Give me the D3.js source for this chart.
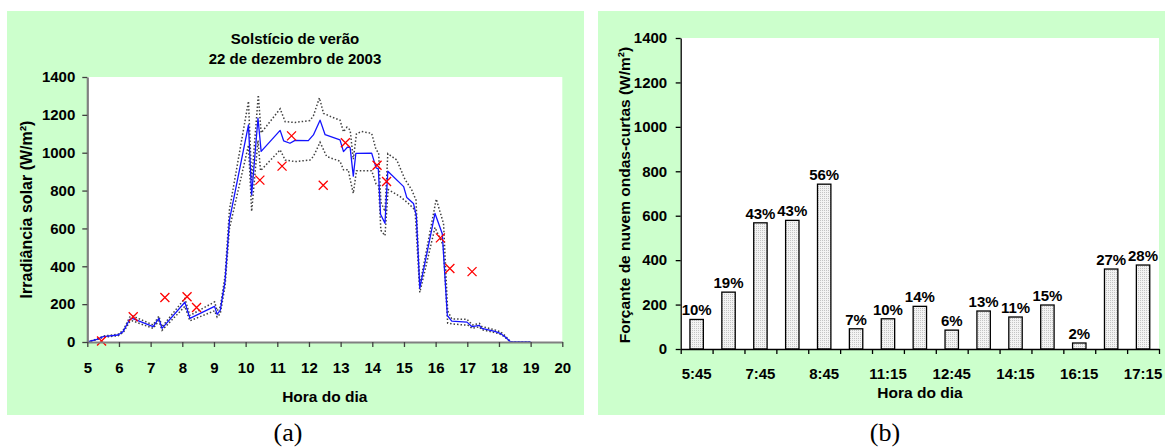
<!DOCTYPE html>
<html><head><meta charset="utf-8">
<script src="https://cdn.jsdelivr.net/npm/d3@7"></script>
<style>
body{margin:0;background:#fff}
svg{display:block}
text{font-family:"Liberation Sans",Arial,sans-serif;font-weight:bold;fill:#000}
</style>
</head><body>
<svg id="c" width="1165" height="448"></svg>
<script>
// ---------- Panel (a) data ----------
const leftTitle = ["Solstício de verão", "22 de dezembro de 2003"];
const leftXTicks = [5,6,7,8,9,10,11,12,13,14,15,16,17,18,19,20];
const leftYTicks = [0,200,400,600,800,1000,1200,1400];

const modelHours  = [5.0,5.3,5.5,5.97,6.13,6.34,6.42,7.08,7.26,7.36,8.08,8.24,9.02,9.1,9.2,9.35,9.49,10.09,10.19,10.39,10.49,11.09,11.2,11.4,11.56,11.98,12.14,12.35,12.51,12.98,13.09,13.22,13.3,13.4,13.48,13.98,14.12,14.19,14.26,14.4,14.49,14.99,15.09,15.3,15.39,15.5,15.98,16.21,16.37,16.51,16.99,17.15,17.38,17.46,17.87,18.06,18.19,18.37,19.0];
const modelValues = [0,14,28,37,55,120,125,81,125,72,210,125,188,146,168,322,645,1147,777,1182,1007,1118,1063,1050,1065,1064,1094,1172,1095,1068,1006,1030,1027,876,996,998,920,915,675,627,902,821,763,732,668,284,679,572,140,110,105,81,88,72,56,44,28,0,0];

const upperHours  = [5.0,5.3,5.5,5.97,6.13,6.34,6.42,7.08,7.26,7.36,8.08,8.24,9.02,9.1,9.2,9.35,9.49,10.09,10.19,10.4,10.49,11.09,11.25,11.56,12.03,12.14,12.33,12.46,12.7,12.98,13.09,13.2,13.3,13.4,13.5,13.66,13.98,14.12,14.2,14.27,14.4,14.49,14.77,15.03,15.24,15.38,15.5,16.02,16.25,16.38,16.51,16.99,17.16,17.38,17.46,17.87,18.06,18.2,18.37,19.0];
const upperValues = [0,16,31,41,61,132,138,90,137,80,230,140,212,165,185,350,700,1272,855,1305,1105,1232,1164,1160,1170,1195,1290,1208,1190,1172,1110,1135,1120,965,1100,1112,1102,1015,1000,740,690,995,962,860,805,750,300,755,625,165,122,120,90,98,82,64,52,32,0,0];

const lowerHours  = [5.0,5.3,5.5,5.97,6.13,6.34,6.42,7.08,7.26,7.36,8.08,8.24,9.02,9.1,9.2,9.35,9.49,10.09,10.19,10.39,10.47,11.09,11.25,11.56,12.03,12.14,12.35,12.56,12.98,13.09,13.24,13.3,13.4,13.5,13.98,14.12,14.2,14.27,14.4,14.5,14.88,15.14,15.35,15.5,15.98,16.24,16.38,16.51,17.03,17.15,17.38,17.46,17.87,18.06,18.19,18.37,19.0];
const lowerValues = [0,12,25,33,49,108,112,72,112,62,188,112,165,132,150,295,600,1040,690,1065,905,1015,961,953,961,980,1055,980,955,910,910,860,785,905,905,835,825,590,562,805,768,732,697,262,605,510,100,96,88,72,80,65,50,40,25,0,0];

const obsHours  = [5.45,6.45,7.45,8.15,8.45,10.45,11.15,11.45,12.45,13.15,14.15,14.45,16.15,16.45,17.15];
const obsValues = [5,133,235,239,182,855,929,1089,828,1053,934,848,550,388,372];

// ---------- Panel (b) data ----------
const barCategories = ["5:45","6:45","7:45","8:15","8:45","10:45","11:15","11:45","12:45","13:15","14:15","14:45","16:15","16:45","17:15"];
const barValues     = [133,256,568,579,742,91,136,192,85,171,144,198,27,360,378];
const barPercents   = ["10%","19%","43%","43%","56%","7%","10%","14%","6%","13%","11%","15%","2%","27%","28%"];
const rightYTicks   = [0,200,400,600,800,1000,1200,1400];

const svg = d3.select("#c");
const defs = svg.append("defs");
const pat = defs.append("pattern").attr("id","dots").attr("width",2).attr("height",2).attr("patternUnits","userSpaceOnUse");
pat.append("rect").attr("width",2).attr("height",2).attr("fill","#f3f3f3");
pat.append("rect").attr("width",1).attr("height",1).attr("fill","#c4c4c4");

const GREEN = "#ccffcc";
const fmt = d3.format("d");

// ================= Panel (a) =================
svg.append("rect").attr("x",7).attr("y",11).attr("width",577).attr("height",404).attr("fill",GREEN);
const xL = d3.scaleLinear().domain([5,20]).range([87.3,562.3]);
const yL = d3.scaleLinear().domain([0,1400]).range([342,77]);
svg.append("rect").attr("x",xL(5)).attr("y",yL(1400)).attr("width",xL(20)-xL(5)).attr("height",yL(0)-yL(1400)).attr("fill","#fff");

const gT = svg.append("g").attr("font-size",15).attr("text-anchor","middle");
gT.append("text").attr("x",295).attr("y",44).text(leftTitle[0]);
gT.append("text").attr("x",295).attr("y",64).text(leftTitle[1]);

const line = (xs, ys) => d3.line().x((d,i)=>xL(xs[i])).y(d=>yL(d))(ys);

// dotted bounds
[[upperHours,upperValues],[lowerHours,lowerValues]].forEach(([h,v])=>{
  svg.append("path").attr("d",line(h,v)).attr("fill","none")
    .attr("stroke","#404040").attr("stroke-width",1.5).attr("stroke-dasharray","1.5,2");
});
// model line
svg.append("path").attr("d",line(modelHours,modelValues)).attr("fill","none")
  .attr("stroke","#1414ff").attr("stroke-width",1.3).attr("stroke-linejoin","round");
// observed markers
svg.append("g").selectAll("path").data(obsValues).join("path")
  .attr("transform",(d,i)=>`translate(${xL(obsHours[i])},${yL(d)})`)
  .attr("d","M-4.5,-4.5L4.5,4.5M-4.5,4.5L4.5,-4.5")
  .attr("stroke","#ff0000").attr("stroke-width",1.3).attr("fill","none");

// axes (a)
const axYL = svg.append("g").attr("transform",`translate(${xL(5)},0)`)
  .call(d3.axisLeft(yL).tickValues(leftYTicks).tickSize(5).tickSizeOuter(0).tickPadding(7).tickFormat(fmt));
const axXL = svg.append("g").attr("transform",`translate(0,${yL(0)})`)
  .call(d3.axisBottom(xL).tickValues(leftXTicks).tickSize(5).tickSizeOuter(0).tickFormat(fmt));
[axYL,axXL].forEach(g=>{
  g.select(".domain").attr("stroke","#808080").attr("stroke-width",2.2);
  g.selectAll(".tick line").attr("stroke","#404040").attr("stroke-width",1.3);
  g.selectAll("text").attr("font-size",15).attr("font-family",null).attr("fill","#000");
});
axXL.selectAll("text").attr("y",31).attr("dy",null);

svg.append("text").attr("x",(xL(5)+xL(20))/2).attr("y",401.5).attr("text-anchor","middle").attr("font-size",15.5).text("Hora do dia");
svg.append("text").attr("transform",`translate(32,${(yL(0)+yL(1400))/2}) rotate(-90)`).attr("text-anchor","middle").attr("font-size",16).text("Irradiância solar (W/m²)");

// ================= Panel (b) =================
svg.append("rect").attr("x",598).attr("y",11).attr("width",567).attr("height",404).attr("fill",GREEN);
const xR = d3.scaleBand().domain(barCategories).range([680.7,1159]).padding(0);
const xRb = d3.scaleLinear().domain([0,barCategories.length]).range([680.7,1159]);
const yR = d3.scaleLinear().domain([0,1400]).range([349,38]);
svg.append("rect").attr("x",680.7).attr("y",yR(1400)).attr("width",1159-680.7).attr("height",yR(0)-yR(1400)).attr("fill","#fff");

const bw = xR.bandwidth(), barW = bw*0.42;
svg.append("g").selectAll("rect").data(barValues).join("rect")
  .attr("x",(d,i)=>xR(barCategories[i])+(bw-barW)/2)
  .attr("y",d=>yR(d)).attr("width",barW).attr("height",d=>yR(0)-yR(d))
  .attr("fill","url(#dots)").attr("stroke","#000").attr("stroke-width",1.3);
svg.append("g").attr("font-size",15).attr("text-anchor","middle")
  .selectAll("text").data(barValues).join("text")
  .attr("x",(d,i)=>xR(barCategories[i])+bw/2)
  .attr("y",d=>yR(d)-4).text((d,i)=>barPercents[i]);

const axYR = svg.append("g").attr("transform",`translate(680.7,0)`)
  .call(d3.axisLeft(yR).tickValues(rightYTicks).tickSize(5).tickSizeOuter(0).tickPadding(8.5).tickFormat(fmt));
const axXRt = svg.append("g").attr("transform",`translate(0,${yR(0)})`)
  .call(d3.axisBottom(xRb).tickValues(d3.range(barCategories.length+1)).tickSize(5).tickSizeOuter(0).tickFormat(""));
const axXRl = svg.append("g").attr("transform",`translate(0,${yR(0)})`)
  .call(d3.axisBottom(xR).tickSize(0).tickFormat((d,i)=> i%2===0 ? d : ""));
axXRl.select(".domain").remove();
[axYR,axXRt].forEach(g=>{
  g.select(".domain").attr("stroke","#000").attr("stroke-width",1.3);
  g.selectAll(".tick line").attr("stroke","#000").attr("stroke-width",1.3);
});
[axYR,axXRl].forEach(g=>g.selectAll("text").attr("font-size",15).attr("font-family",null).attr("fill","#000"));
axXRl.selectAll("text").attr("y",30).attr("dy",null);

svg.append("text").attr("x",920).attr("y",398).attr("text-anchor","middle").attr("font-size",15.5).text("Hora do dia");
svg.append("text").attr("transform",`translate(630,195) rotate(-90)`).attr("text-anchor","middle").attr("font-size",15.5).text("Forçante de nuvem ondas-curtas (W/m²)");

// captions
svg.append("text").attr("x",288).attr("y",441).attr("text-anchor","middle")
  .style("font-family","'Liberation Serif','Times New Roman',serif").style("font-weight","normal").attr("font-size",26).text("(a)");
svg.append("text").attr("x",885).attr("y",441).attr("text-anchor","middle")
  .style("font-family","'Liberation Serif','Times New Roman',serif").style("font-weight","normal").attr("font-size",26).text("(b)");
</script>
</body></html>
